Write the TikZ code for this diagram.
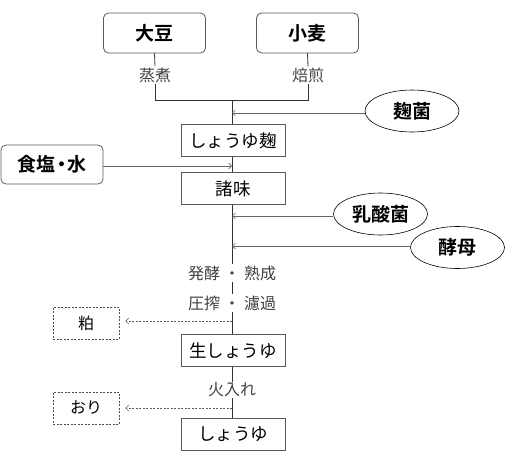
\documentclass[tikz,border=0pt]{standalone}
\usepackage{fontspec}
\setmainfont{Noto Sans CJK JP}
\newfontfamily\jpb{Noto Sans CJK JP Bold}
\usetikzlibrary{shapes.geometric,arrows.meta}
\tikzset{
  rbox/.style={draw=gray!70!black, rounded corners=5pt, line width=0.8pt, minimum width=102pt, minimum height=40pt, font=\jpb\fontsize{19}{21}\selectfont},
  pbox/.style={draw=gray!70!black, line width=0.8pt, minimum width=104pt, minimum height=32pt, inner sep=0pt, font=\fontsize{17.5}{19}\selectfont},
  ebox/.style={draw=black, ellipse, line width=0.6pt, minimum width=94pt, minimum height=42pt, inner sep=0pt, font=\jpb\fontsize{19}{21}\selectfont},
  dbox/.style={draw=gray!60!black, dashed, dash pattern=on 2pt off 1.5pt, line width=0.6pt, minimum width=66pt, minimum height=32pt, font=\fontsize{16}{18}\selectfont},
  lab/.style={font=\fontsize{16}{18}\selectfont, text=black!75, inner sep=1pt},
  ln/.style={draw=black!80, line width=0.8pt},
  arr/.style={draw=gray!80!black, line width=0.6pt, -{Straight Barb[length=3pt,width=6pt]}},
  darr/.style={draw=gray!70!black, line width=0.6pt, dash pattern=on 2pt off 1.5pt, -{Straight Barb[length=3pt,width=6pt]}},
}
\begin{document}
\begin{tikzpicture}[x=1pt,y=-1pt]
\useasboundingbox (0,0) rectangle (508,471);
% top inputs
\node[rbox] (daizu) at (154.5,33) {大豆};
\node[rbox] (komugi) at (307.5,33) {小麦};
\node[lab] (mushi) at (155,75) {蒸煮};
\node[lab] (bai) at (308,75) {焙煎};
\coordinate (c1) at (155,100);
\coordinate (c2) at (308,100);
\coordinate (j) at (232,100);
\draw[ln] (daizu.south) -- (mushi.north);
\draw[ln] (komugi.south) -- (bai.north);
\draw[ln] (mushi.south) -- (c1) -- (c2) -- (bai.south);
% main column
\node[pbox] (koji) at (233,140.5) {しょうゆ麹};
\node[pbox] (moromi) at (233,188.5) {諸味};
\node[lab] (hakko) at (232,273) {発酵\hspace{0.25em}・\hspace{0.25em}熟成};
\node[lab] (assaku) at (232,303) {圧搾\hspace{0.25em}・\hspace{0.25em}濾過};
\node[pbox] (nama) at (233,350.5) {生しょうゆ};
\node[lab] (hiire) at (232,390) {火入れ};
\node[pbox] (shoyu) at (233,434) {しょうゆ};
\draw[ln] (j) -- (koji.north -| j);
\draw[ln] (koji.south -| j) -- (moromi.north -| j);
\draw[ln] (moromi.south -| j) -- (hakko.north -| j);
\draw[ln] (hakko.south -| j) -- (assaku.north -| j);
\draw[ln] (assaku.south -| j) -- (nama.north -| j);
\draw[ln] (nama.south -| j) -- (hiire.north -| j);
\draw[ln] (hiire.south -| j) -- (shoyu.north -| j);
% side inputs
\node[ebox] (kojikin) at (412,111) {麹菌};
\node[ebox] (nyusan) at (380.5,214) {乳酸菌};
\node[ebox] (kobo) at (457.5,247.5) {酵母};
\node[rbox, minimum width=102pt, minimum height=39pt] (shokuen) at (52,164.5) {食塩\kern-0.2em・\kern-0.2em水};
\coordinate (a1) at (232,113);
\coordinate (a2) at (232,166);
\coordinate (a3) at (232,216);
\coordinate (a4) at (232,246);
\draw[arr] (kojikin.west |- a1) -- (a1);
\draw[arr] (shokuen.east |- a2) -- (a2);
\draw[arr] (nyusan.west |- a3) -- (a3);
\draw[arr] (kobo.west |- a4) -- (a4);
% by-products
\node[dbox] (kasu) at (86,323) {粕};
\node[dbox] (ori) at (86,408) {おり};
\coordinate (b1) at (232,321);
\coordinate (b2) at (232,408);
\draw[darr] (b1) -- ([xshift=6pt]kasu.east |- b1);
\draw[darr] (b2) -- ([xshift=6pt]ori.east |- b2);
\end{tikzpicture}
\end{document}
